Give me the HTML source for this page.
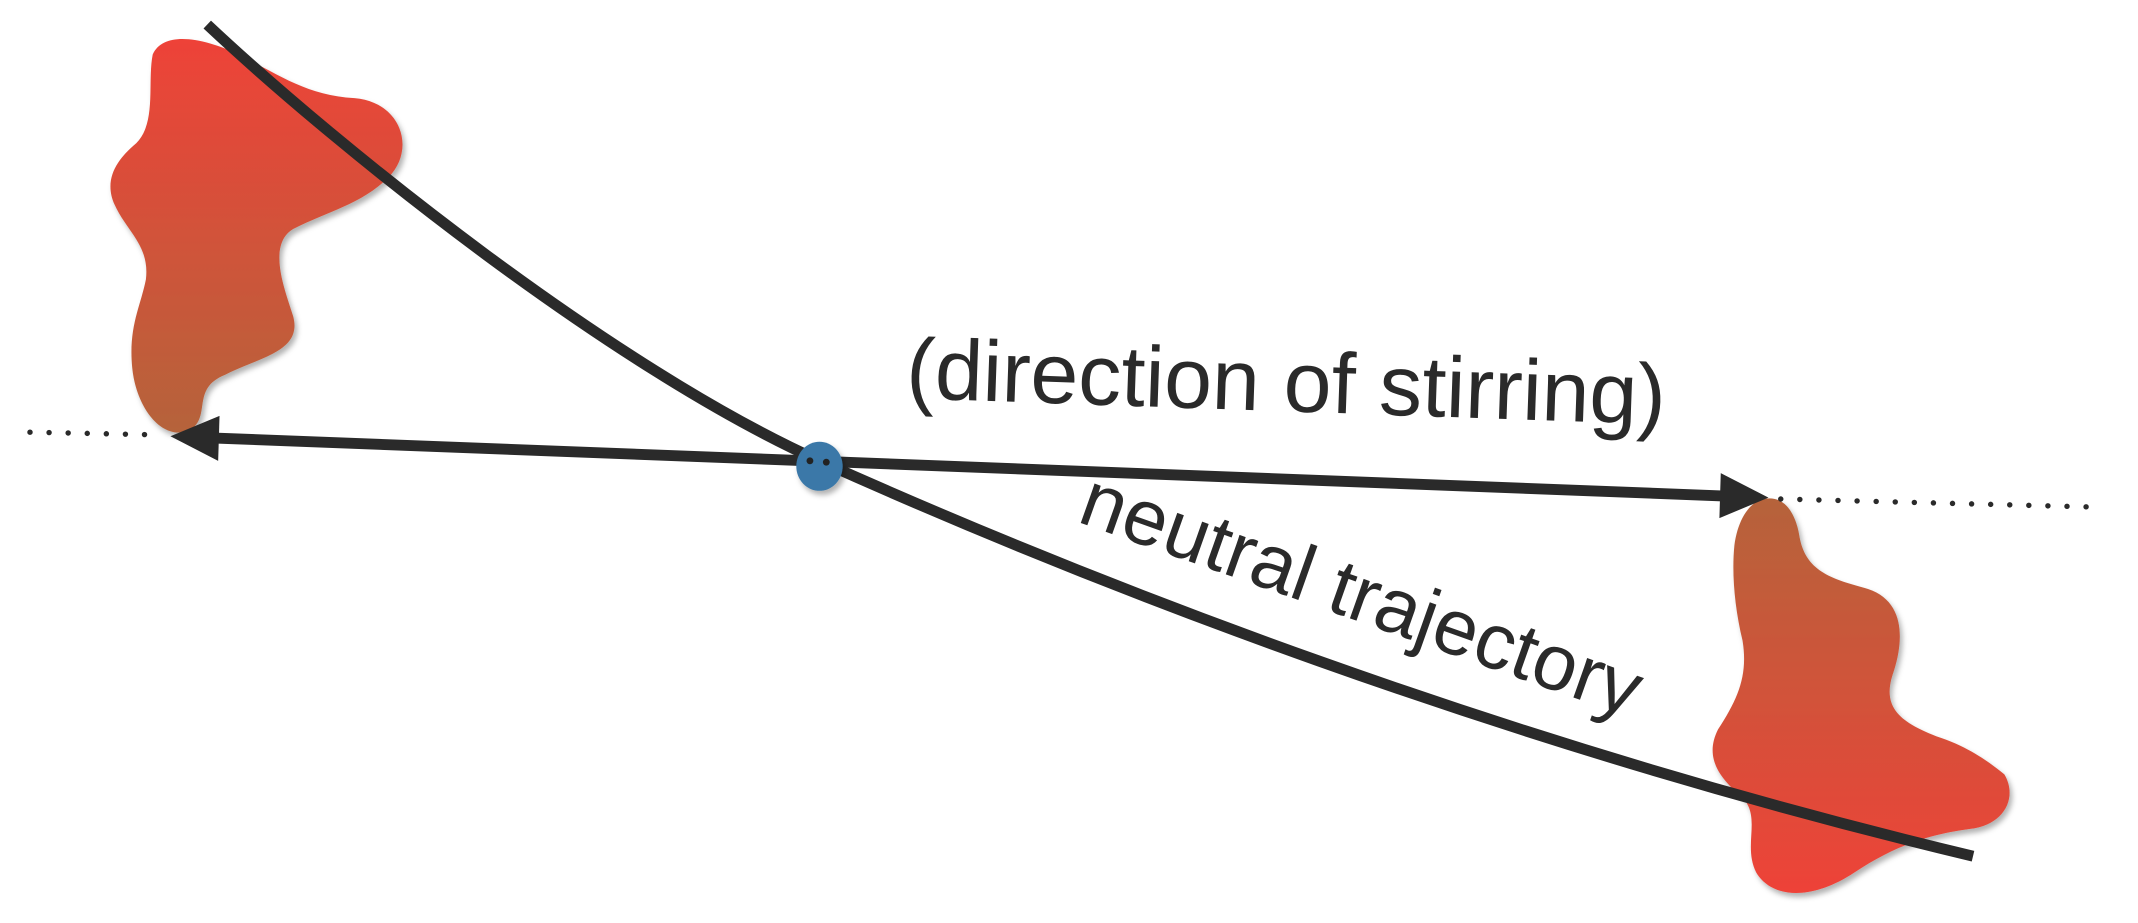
<!DOCTYPE html>
<html><head><meta charset="utf-8"><style>html,body{margin:0;padding:0;background:#fff}svg{display:block}
.t{position:absolute;left:0;top:0;font-family:"Liberation Sans",sans-serif;color:#2a2a2a;white-space:nowrap;transform-origin:0 0;line-height:1}
</style></head>
<body style="position:relative;width:2138px;height:923px;overflow:hidden">
<svg width="2138" height="923" viewBox="0 0 1568 677" preserveAspectRatio="none" xmlns="http://www.w3.org/2000/svg">
<defs>
<linearGradient id="g1" x1="0" y1="0" x2="0" y2="1"><stop offset="0" stop-color="#ee4239"/><stop offset="1" stop-color="#b5633a"/></linearGradient>
<linearGradient id="g2" x1="0" y1="0" x2="0" y2="1"><stop offset="0" stop-color="#b5633a"/><stop offset="1" stop-color="#ee4239"/></linearGradient>
<filter id="sh" x="-10%" y="-10%" width="130%" height="130%"><feDropShadow dx="2" dy="3" stdDeviation="2" flood-color="#000" flood-opacity="0.3"/></filter>
</defs>
<path filter="url(#sh)" fill="url(#g1)" d="M112,40 C120,22 150,28 175,40 C205,55 225,70 260,72 C295,75 305,110 285,130 C265,150 240,155 215,168 C195,180 210,215 215,232 C222,258 190,262 165,275 C140,285 155,305 140,315 C120,325 100,300 97,270 C94,240 103,225 107,205 C110,180 93,170 84,150 C75,130 88,115 100,105 C115,90 108,60 112,40 Z"/>
<path filter="url(#sh)" fill="url(#g2)" d="M1290,367 C1310,360 1318,380 1320,395 C1325,420 1345,425 1370,432 C1400,442 1395,475 1388,495 C1380,520 1395,530 1420,540 C1445,548 1460,560 1470,568 C1480,585 1470,605 1445,608 C1415,612 1390,620 1360,640 C1330,660 1300,660 1288,640 C1278,620 1292,600 1278,585 C1260,570 1250,555 1260,535 C1275,512 1282,495 1278,470 C1272,445 1270,420 1272,400 C1274,385 1280,372 1290,367 Z"/>
<path d="M152,18 C250,110 450,270 601,338 C797,426 1100,545 1447,628" fill="none" stroke="#2a2a2a" stroke-width="8"/>
<line x1="150" y1="321" x2="1270" y2="364" stroke="#2a2a2a" stroke-width="8"/>
<polygon points="125,320 161,305 160,338" fill="#2a2a2a"/>
<polygon points="1297,365 1262,347 1261,380" fill="#2a2a2a"/>
<line x1="22" y1="317" x2="118" y2="319" stroke="#2a2a2a" stroke-width="4" stroke-linecap="round" stroke-dasharray="0 14"/>
<line x1="1306" y1="366" x2="1540" y2="372" stroke="#2a2a2a" stroke-width="4" stroke-linecap="round" stroke-dasharray="0 14"/>
<ellipse cx="601" cy="342" rx="17" ry="18" fill="#3a78a8" filter="url(#sh)"/>
<circle cx="594" cy="338" r="2.5" fill="#222"/><circle cx="606" cy="339" r="2.5" fill="#222"/>
</svg>
<div class="t" style="font-size:86px;transform:translate(908px,326px) rotate(2deg)">(direction of stirring)</div>
<div class="t" style="font-size:79px;transform:translate(1098px,458px) rotate(19.5deg)">neutral trajectory</div>
</body></html>
